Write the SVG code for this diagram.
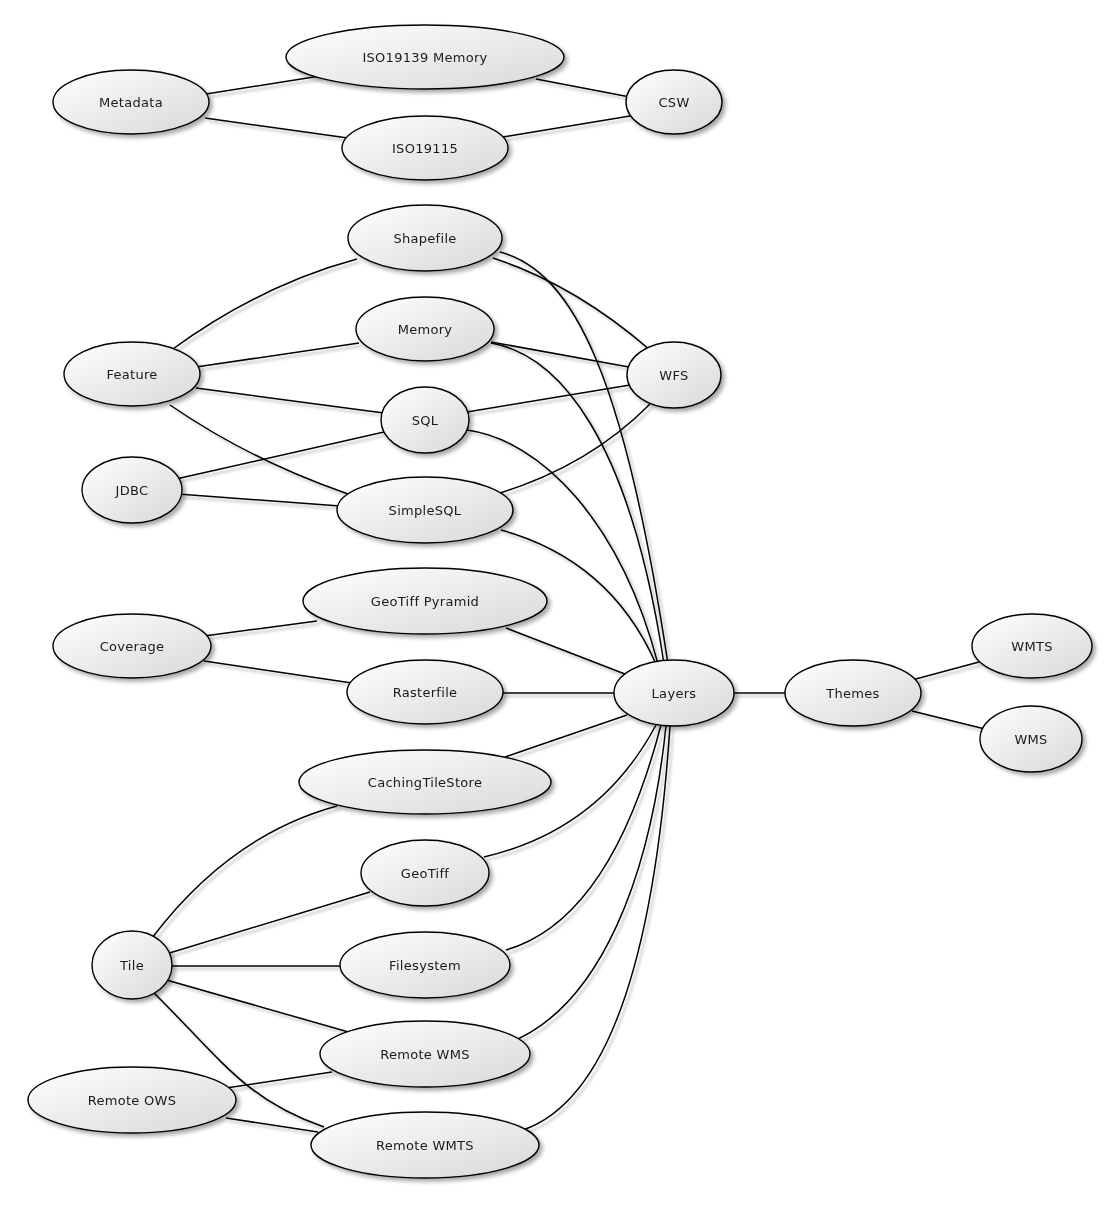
<svg xmlns="http://www.w3.org/2000/svg" width="1120" height="1208" viewBox="0 0 1120 1208">
<defs>
<linearGradient id="g" x1="0" y1="0" x2="1" y2="1">
<stop offset="0" stop-color="#ffffff"/>
<stop offset="1" stop-color="#d8d8d8"/>
</linearGradient>
<filter id="sh" x="-20%" y="-20%" width="150%" height="160%">
<feGaussianBlur in="SourceAlpha" stdDeviation="2"/>
<feOffset dx="3" dy="3" result="b"/>
<feComponentTransfer><feFuncA type="linear" slope="0.35"/></feComponentTransfer>
<feMerge><feMergeNode/><feMergeNode in="SourceGraphic"/></feMerge>
</filter>
<filter id="esh" x="-10%" y="-10%" width="130%" height="130%">
<feGaussianBlur in="SourceAlpha" stdDeviation="1.5"/>
<feOffset dx="3" dy="3" result="b"/>
<feComponentTransfer><feFuncA type="linear" slope="0.3"/></feComponentTransfer>
<feMerge><feMergeNode/><feMergeNode in="SourceGraphic"/></feMerge>
</filter>
</defs>
<style>
.n ellipse{fill:url(#g);stroke:#000;stroke-width:1.4}
.n{filter:url(#sh)}
.n text{font-family:"DejaVu Sans",Verdana,sans-serif;font-size:13px;letter-spacing:0.3px;fill:#1a1a1a;text-anchor:middle}
#edges path{fill:none;stroke:#000;stroke-width:1.5}
#edges{filter:url(#esh)}
</style>
<rect width="1120" height="1208" fill="#fff"/>
<g id="edges">
<path d="M206,94 L320,76"/>
<path d="M205,118 L348,138"/>
<path d="M536,79 L630,97"/>
<path d="M503,137 L630,116"/>
<path d="M170,351 Q260,285 357,259"/>
<path d="M196,367 L359,343"/>
<path d="M196,388 L384,413"/>
<path d="M170,405 Q250,460 348,494"/>
<path d="M176,479 L384,432"/>
<path d="M178,494 L340,506"/>
<path d="M493,258 Q575,285 650,350"/>
<path d="M500,252 C575,272 625,380 668,664"/>
<path d="M491,342 L629,367"/>
<path d="M491,343 C560,355 630,440 664,664"/>
<path d="M467,412 L630,385"/>
<path d="M467,430 C540,440 620,520 658,664"/>
<path d="M500,493 Q590,465 650,404"/>
<path d="M501,530 Q610,560 656,664"/>
<path d="M506,628 L630,676"/>
<path d="M204,636 L317,621"/>
<path d="M204,661 L352,683"/>
<path d="M501,693 L616,693"/>
<path d="M732,693 L787,693"/>
<path d="M912,680 L979,662"/>
<path d="M912,711 L985,729"/>
<path d="M505,757 L627,715"/>
<path d="M484,857 Q600,830 656,725"/>
<path d="M506,950 Q610,920 661,725"/>
<path d="M518,1039 C600,1000 650,880 666,726"/>
<path d="M523,1130 C610,1100 655,950 670,726"/>
<path d="M152,938 Q230,835 337,806"/>
<path d="M163,955 L370,892"/>
<path d="M170,966 L342,966"/>
<path d="M163,979 L352,1033"/>
<path d="M152,991 C220,1058 245,1100 324,1127"/>
<path d="M226,1088 L332,1072"/>
<path d="M226,1118 L318,1132"/>
</g>
<g id="n-metadata" class="n"><ellipse cx="131" cy="102" rx="78" ry="32"/><text x="131" y="107">Metadata</text></g>
<g id="n-iso19139" class="n"><ellipse cx="425" cy="57" rx="139" ry="32"/><text x="425" y="62">ISO19139 Memory</text></g>
<g id="n-iso19115" class="n"><ellipse cx="425" cy="148" rx="83" ry="32"/><text x="425" y="153">ISO19115</text></g>
<g id="n-csw" class="n"><ellipse cx="674" cy="102" rx="48" ry="32"/><text x="674" y="107">CSW</text></g>
<g id="n-shapefile" class="n"><ellipse cx="425" cy="238" rx="77" ry="33"/><text x="425" y="243">Shapefile</text></g>
<g id="n-memory" class="n"><ellipse cx="425" cy="329" rx="69" ry="32"/><text x="425" y="334">Memory</text></g>
<g id="n-feature" class="n"><ellipse cx="132" cy="374" rx="68" ry="32"/><text x="132" y="379">Feature</text></g>
<g id="n-wfs" class="n"><ellipse cx="674" cy="375" rx="47" ry="33"/><text x="674" y="380">WFS</text></g>
<g id="n-sql" class="n"><ellipse cx="425" cy="420" rx="44" ry="33"/><text x="425" y="425">SQL</text></g>
<g id="n-jdbc" class="n"><ellipse cx="132" cy="490" rx="50" ry="33"/><text x="132" y="495">JDBC</text></g>
<g id="n-simplesql" class="n"><ellipse cx="425" cy="510" rx="88" ry="33"/><text x="425" y="515">SimpleSQL</text></g>
<g id="n-geotiffpyramid" class="n"><ellipse cx="425" cy="601" rx="122" ry="33"/><text x="425" y="606">GeoTiff Pyramid</text></g>
<g id="n-coverage" class="n"><ellipse cx="132" cy="646" rx="79" ry="32"/><text x="132" y="651">Coverage</text></g>
<g id="n-rasterfile" class="n"><ellipse cx="425" cy="692" rx="78" ry="32"/><text x="425" y="697">Rasterfile</text></g>
<g id="n-layers" class="n"><ellipse cx="674" cy="693" rx="60" ry="33"/><text x="674" y="698">Layers</text></g>
<g id="n-themes" class="n"><ellipse cx="853" cy="693" rx="68" ry="33"/><text x="853" y="698">Themes</text></g>
<g id="n-wmts" class="n"><ellipse cx="1032" cy="646" rx="60" ry="32"/><text x="1032" y="651">WMTS</text></g>
<g id="n-wms" class="n"><ellipse cx="1031" cy="739" rx="51" ry="33"/><text x="1031" y="744">WMS</text></g>
<g id="n-cachingtilestore" class="n"><ellipse cx="425" cy="782" rx="126" ry="32"/><text x="425" y="787">CachingTileStore</text></g>
<g id="n-geotiff" class="n"><ellipse cx="425" cy="873" rx="64" ry="33"/><text x="425" y="878">GeoTiff</text></g>
<g id="n-tile" class="n"><ellipse cx="132" cy="965" rx="40" ry="34"/><text x="132" y="970">Tile</text></g>
<g id="n-filesystem" class="n"><ellipse cx="425" cy="965" rx="85" ry="33"/><text x="425" y="970">Filesystem</text></g>
<g id="n-remotewms" class="n"><ellipse cx="425" cy="1054" rx="105" ry="33"/><text x="425" y="1059">Remote WMS</text></g>
<g id="n-remoteows" class="n"><ellipse cx="132" cy="1100" rx="104" ry="33"/><text x="132" y="1105">Remote OWS</text></g>
<g id="n-remotewmts" class="n"><ellipse cx="425" cy="1145" rx="114" ry="33"/><text x="425" y="1150">Remote WMTS</text></g>
</svg>
